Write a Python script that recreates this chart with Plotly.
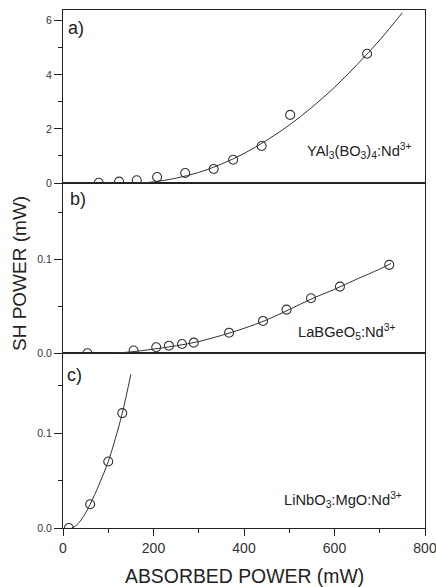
import plotly.graph_objects as go

# ---- data ----
# panel a) YAl3(BO3)4:Nd3+
a_x = [79, 124, 163, 208, 270, 333, 376, 439, 502, 672]
a_y = [0.01, 0.05, 0.10, 0.22, 0.37, 0.52, 0.86, 1.37, 2.52, 4.78]
a_fit_x = [165, 200, 250, 300, 350, 400, 450, 500, 550, 600, 650, 700, 750]
a_fit_y = [0.0, 0.04, 0.18, 0.39, 0.70, 1.09, 1.58, 2.14, 2.80, 3.54, 4.38, 5.29, 6.30]

# panel b) LaBGeO5:Nd3+
b_x = [54, 156, 206, 234, 263, 289, 367, 442, 494, 548, 612, 721]
b_y = [0.0, 0.003, 0.0064, 0.0081, 0.0099, 0.0113, 0.0219, 0.0344, 0.0464, 0.0585, 0.0709, 0.094]
b_fit_x = [105, 150, 200, 250, 300, 350, 400, 450, 500, 550, 600, 650, 700, 725]
b_fit_y = [0.0, 0.0015, 0.0045, 0.008, 0.0125, 0.019, 0.0265, 0.0355, 0.0465, 0.058, 0.068, 0.079, 0.0895, 0.0955]

# panel c) LiNbO3:MgO:Nd3+
c_x = [13, 60, 100, 131]
c_y = [0.0, 0.025, 0.070, 0.121]
c_fit_x = [19, 30, 45, 60, 80, 100, 115, 131, 150]
c_fit_y = [0.0, 0.003, 0.012, 0.025, 0.046, 0.070, 0.093, 0.121, 0.162]

x_ticks = [0, 200, 400, 600, 800]
panel_labels = ["a)", "b)", "c)"]
sample_names = ["YAl<sub>3</sub>(BO<sub>3</sub>)<sub>4</sub>:Nd<sup>3+</sup>",
                "LaBGeO<sub>5</sub>:Nd<sup>3+</sup>",
                "LiNbO<sub>3</sub>:MgO:Nd<sup>3+</sup>"]
x_title = "ABSORBED POWER (mW)"
y_title = "SH POWER (mW)"

FONT = "Liberation Sans, Arial, Helvetica, sans-serif"
INK = "#222"
MARK = "#333"

W, H = 436, 587
ML, MR, MT, MB = 63, 11, 10, 59
PW, PH = W - ML - MR, H - MT - MB


def px(xp):
    return (xp - ML) / PW


def py(yp):
    return (H - MB - yp) / PH


fig = go.Figure()

panels = [
    ("x3", "y3", a_x, a_y, a_fit_x, a_fit_y),
    ("x2", "y2", b_x, b_y, b_fit_x, b_fit_y),
    ("x", "y", c_x, c_y, c_fit_x, c_fit_y),
]
for xa, ya, xs, ys, fx, fy in panels:
    fig.add_trace(go.Scatter(x=fx, y=fy, mode="lines", line=dict(color=MARK, width=1, shape="spline"),
                             xaxis=xa, yaxis=ya, hoverinfo="skip", showlegend=False))
    fig.add_trace(go.Scatter(x=xs, y=ys, mode="markers",
                             marker=dict(symbol="circle-open", size=9, color=MARK, line=dict(width=1.1, color=MARK)),
                             xaxis=xa, yaxis=ya, hoverinfo="skip", showlegend=False))

d_c = [0, py(353.3)]
d_b = [py(353.3), py(183)]
d_a = [py(183), 1]

yax_common = dict(showline=True, mirror=True, linecolor=INK, linewidth=1, ticks="outside", ticklen=8,
                  tickwidth=1, tickcolor=INK, showgrid=False, zeroline=False, automargin=False,
                  ticklabeloverflow="allow",
                  tickfont=dict(family=FONT, size=10.5, color="#333"))
xax_hidden = dict(domain=[0, 1], matches="x", showticklabels=False, ticks="", showline=True, automargin=False,
                  mirror=True, linecolor=INK, linewidth=1, showgrid=False, zeroline=False)

fig.update_layout(
    width=W, height=H, autosize=False,
    margin=dict(l=ML, r=MR, t=MT, b=MB, autoexpand=False),
    paper_bgcolor="white", plot_bgcolor="white",
    font=dict(family=FONT, color="#222"),
    showlegend=False,
    xaxis=dict(domain=[0, 1], anchor="y", range=[0, 800], tickvals=x_ticks, showline=True, mirror=True,
               linecolor=INK, linewidth=1, ticks="outside", ticklen=7, tickwidth=1, tickcolor=INK,
               minor=dict(ticks="outside", ticklen=4, dtick=100, tickcolor=INK, showgrid=False),
               showgrid=False, zeroline=False, automargin=False, ticklabeloverflow="allow",
               tickfont=dict(family=FONT, size=14, color="#333")),
    xaxis2=dict(anchor="y2", **xax_hidden),
    xaxis3=dict(anchor="y3", **xax_hidden),
    yaxis=dict(domain=d_c, anchor="x", range=[0, 0.184], tickvals=[0, 0.1], tickformat=".1f",
               minor=dict(ticks="outside", ticklen=4, tickvals=[0.05, 0.15], tickcolor=INK, showgrid=False),
               **yax_common),
    yaxis2=dict(domain=d_b, anchor="x2", range=[0, 0.181], tickvals=[0, 0.1], tickformat=".1f",
                minor=dict(ticks="outside", ticklen=4, tickvals=[0.05, 0.15], tickcolor=INK, showgrid=False),
                **yax_common),
    yaxis3=dict(domain=d_a, anchor="x3", range=[0, 6.4], tickvals=[0, 2, 4, 6],
                minor=dict(ticks="outside", ticklen=4, tickvals=[1, 3, 5], tickcolor=INK, showgrid=False),
                **yax_common),
)

ann = []
# panel letters
for lab, (x0, yc) in zip(panel_labels, [(65.5, 28), (68, 199), (65, 375)]):
    ann.append(dict(text=lab, xref="paper", yref="paper", x=px(x0), y=py(yc), xanchor="left", yanchor="middle",
                    showarrow=False, font=dict(family=FONT, size=18, color="#222")))
# sample names
for name, (x0, yc) in zip(sample_names, [(305, 151), (296, 332), (282, 500)]):
    ann.append(dict(text=name, xref="paper", yref="paper", x=px(x0), y=py(yc), xanchor="left", yanchor="middle",
                    showarrow=False, font=dict(family=FONT, size=14.7, color="#222")))
# axis titles
ann.append(dict(text=x_title, xref="paper", yref="paper", x=px(244), y=py(576), xanchor="center",
                yanchor="middle", showarrow=False, font=dict(family=FONT, size=19.4, color="#222")))
ann.append(dict(text=y_title, xref="paper", yref="paper", x=px(19), y=py(274), xanchor="center",
                yanchor="middle", textangle=-90, showarrow=False, font=dict(family=FONT, size=19, color="#222")))
fig.update_layout(annotations=ann)

fig.write_html(
    "out.html",
    config={"responsive": False, "displayModeBar": False},
    post_script="document.body.style.margin='0';document.body.style.overflow='hidden';",
)
